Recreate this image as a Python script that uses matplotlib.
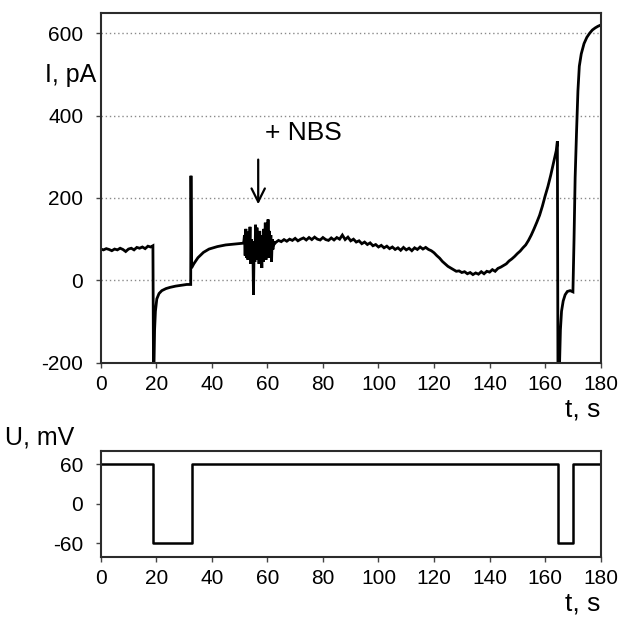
import matplotlib
matplotlib.use("Agg")
import matplotlib.pyplot as plt

plt.rcParams['font.family'] = ['Liberation Sans', 'DejaVu Sans']
plt.rcParams['axes.unicode_minus'] = False

# Membrane current trace, time in s, current in pA
t_base = [0, 1, 2, 3, 4, 5, 6, 7, 8, 9, 10, 11, 12, 13, 14, 15, 16, 17, 18, 18.8]
i_base = [76, 74, 77, 75, 72, 76, 74, 78, 75, 70, 76, 78, 74, 80, 78, 81, 77, 83, 81, 84]

t_pulse1 = [19.0, 19.2, 19.4, 19.7, 20.2, 21, 22, 23.5, 25, 27, 29, 31, 32.4,
            32.5, 32.7, 33.5, 35, 37, 39, 42, 45, 48, 51]
i_pulse1 = [-200, -200, -120, -75, -45, -32, -25, -20, -17, -14, -12, -10, -10,
            254, 30, 40, 55, 68, 76, 82, 86, 88, 90]

t_nbs = [51.5, 51.75, 52, 52.25, 52.5, 52.75, 53, 53.25, 53.5, 53.75, 54, 54.25,
         54.5, 54.75, 55, 55.25, 55.5, 55.75, 56, 56.25, 56.5, 56.75, 57, 57.25,
         57.5, 57.75, 58, 58.25, 58.5, 58.75, 59, 59.25, 59.5, 59.75, 60, 60.25,
         60.5, 60.75, 61, 61.25, 61.5, 61.75, 62, 62.25, 62.5]
i_nbs = [92, 110, 60, 125, 55, 118, 50, 105, 70, 130, 40, 100,
         60, 95, -35, 85, 45, 135, 50, 128, 60, 115, 40, 120,
         55, 100, 30, 110, 45, 125, 60, 140, 50, 130, 65, 148,
         55, 120, 70, 110, 45, 100, 75, 95, 88]

t_mid = [63, 64, 65, 66, 67, 68, 69, 70, 71, 72, 73, 74, 75, 76, 77, 78, 79, 80,
         81, 82, 83, 84, 85, 86, 87, 88, 89, 90, 91, 92, 93, 94, 95, 96, 97, 98,
         99, 100, 101, 102, 103, 104, 105, 106, 107, 108, 109, 110, 111, 112, 113,
         114, 115, 116, 117, 118, 119, 120, 121, 122, 123, 124, 125, 126, 127, 128,
         129, 130, 131, 132, 133, 134, 135, 136, 137, 138, 139, 140, 141, 142, 143,
         144, 145, 146, 147, 148, 149, 150, 151, 152, 153, 154, 155, 156, 157, 158,
         159, 160, 161, 162, 163, 164, 164.4]
i_mid = [92, 97, 94, 99, 95, 100, 97, 102, 96, 100, 103, 98, 104, 99, 105, 100,
         98, 104, 99, 97, 103, 98, 104, 100, 110, 99, 105, 96, 100, 93, 96, 89,
         93, 87, 91, 84, 87, 81, 85, 79, 83, 77, 81, 75, 79, 73, 80, 74, 78, 72,
         79, 75, 81, 76, 80, 75, 72, 67, 60, 54, 46, 40, 34, 30, 26, 22, 23, 19,
         21, 16, 19, 14, 18, 15, 21, 16, 22, 20, 26, 22, 29, 32, 36, 40, 47, 52,
         58, 65, 71, 79, 86, 97, 110, 125, 141, 158, 180, 205, 228, 255, 285, 315, 338]

t_pulse2 = [164.6, 165.2, 165.5, 165.9, 166.5, 167.2, 168, 169, 170.0,
            170.4, 170.8, 171.3, 171.8, 172.3, 173, 174, 175, 176, 177, 178, 179, 180]
i_pulse2 = [-200, -200, -120, -75, -50, -35, -27, -25, -28,
            100, 250, 360, 460, 520, 550, 575, 590, 600, 608, 613, 617, 620]

t_current = t_base + t_pulse1 + t_nbs + t_mid + t_pulse2
i_current = i_base + i_pulse1 + i_nbs + i_mid + i_pulse2

# Holding potential protocol, mV (step changes)
t_volt = [0, 19.0, 32.8, 164.5, 170.1, 180]
u_volt = [60, -60, 60, -60, 60, 60]

x_ticks = [0, 20, 40, 60, 80, 100, 120, 140, 160, 180]
i_ticks = [-200, 0, 200, 400, 600]
u_ticks = [-60, 0, 60]

W, H = 620, 624
fig = plt.figure(figsize=(W / 100, H / 100), dpi=100)

def px_axes(left, top, right, bottom):
    return fig.add_axes([left / W, 1 - bottom / H, (right - left) / W, (bottom - top) / H])

ax1 = px_axes(100.7, 12.7, 600.7, 362.7)
ax2 = px_axes(100.7, 451, 600.7, 556.7)

spine_col = '#2b2b2b'
for ax in (ax1, ax2):
    for s in ax.spines.values():
        s.set_linewidth(1.5)
        s.set_color(spine_col)
    ax.set_xlim(0, 180)
    ax.set_xticks(x_ticks)
    ax.tick_params(direction='out', length=3.5, width=1.0, color='#444444',
                   labelsize=15, pad=5)
    ax.tick_params(axis='y', pad=9)

# Current panel
ax1.set_ylim(-200, 650)
ax1.set_yticks(i_ticks)
for g in [0, 200, 400, 600]:
    ax1.axhline(g, color='#8a8a8a', lw=1.0, ls=(0, (1, 2)), zorder=0)
ax1.plot(t_current, i_current, color='black', lw=2.0, solid_joinstyle='miter')

ax1.annotate('', xy=(56.7, 178), xytext=(56.7, 300),
             arrowprops=dict(arrowstyle='->', lw=1.6, color='black',
                             mutation_scale=24))
ax1.text(59.0, 357, '+ NBS', fontsize=19, ha='left', va='center')

ax1.text(1.0, -0.135, 't, s', transform=ax1.transAxes, ha='right', va='center',
         fontsize=19)
fig.text(71 / W, 1 - 75 / H, 'I, pA', ha='center', va='center', fontsize=18)

# Voltage panel
ax2.set_ylim(-80, 80)
ax2.set_yticks(u_ticks)
ax2.step(t_volt, u_volt, where='post', color='black', lw=1.8)
ax2.text(1.0, -0.44, 't, s', transform=ax2.transAxes, ha='right', va='center',
         fontsize=19)
fig.text(5 / W, 1 - 437 / H, 'U, mV', ha='left', va='center', fontsize=18)

fig.savefig('out.png', dpi=100)
